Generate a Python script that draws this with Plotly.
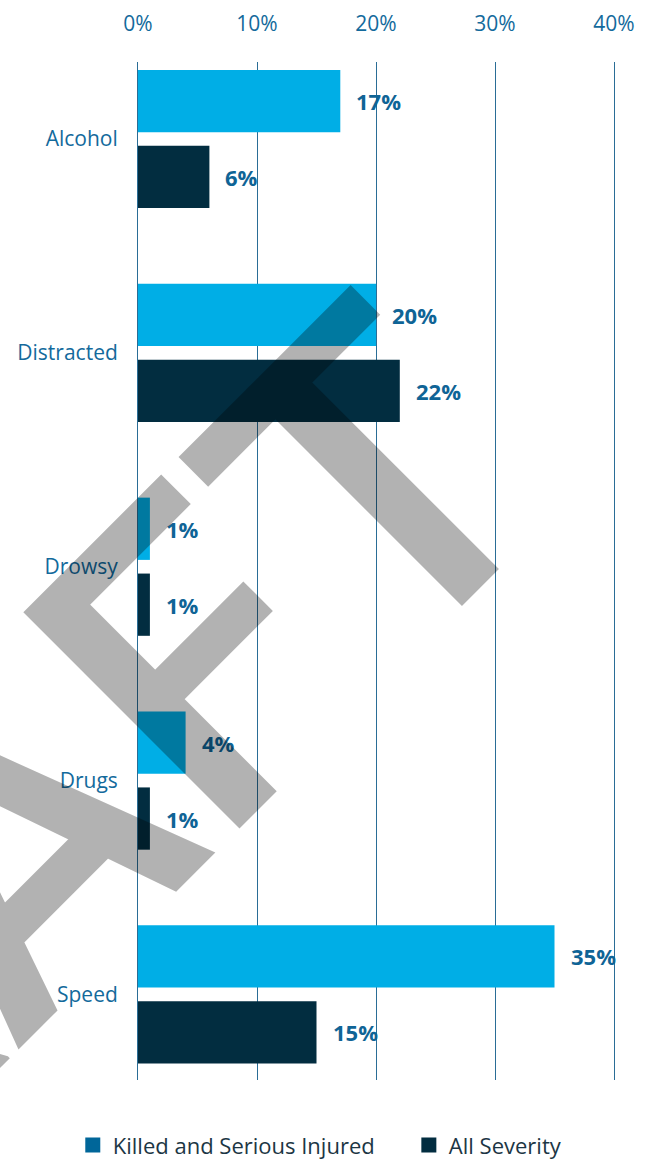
import plotly.graph_objects as go

# Contributing factors and share of crashes (%)
categories = ["Alcohol", "Distracted", "Drowsy", "Drugs", "Speed"]
killed_serious = [17, 20, 1, 4, 35]
all_severity = [6, 22, 1, 1, 15]
tick_values = [0, 10, 20, 30, 40]
tick_labels = ["0%", "10%", "20%", "30%", "40%"]

LIGHT = "#00aee6"
DARK = "#022d40"
LEGEND_BLUE = "#006699"
LABEL_BLUE = "#136a9c"
VALUE_BLUE = "#0f6496"
GRID = "#2a6d96"
LEGEND_TEXT = "#1c3644"
FONT = "Open Sans"
MARK_FONT = "Roboto"

fig = go.Figure()

fig.add_trace(go.Bar(
    y=categories, x=killed_serious, orientation="h",
    marker=dict(color=LIGHT, line=dict(width=0)),
    name="Killed and Serious Injured", showlegend=False,
    hoverinfo="skip",
))
fig.add_trace(go.Bar(
    y=categories, x=all_severity, orientation="h",
    marker=dict(color=DARK, line=dict(width=0)),
    name="All Severity", showlegend=False,
    hoverinfo="skip",
))

# legend entries (square swatches), one legend box each
fig.add_trace(go.Scatter(
    x=[None], y=[None], mode="markers", name="Killed and Serious Injured",
    marker=dict(symbol="square", size=15, color=LEGEND_BLUE),
    legend="legend",
))
fig.add_trace(go.Scatter(
    x=[None], y=[None], mode="markers", name="All Severity",
    marker=dict(symbol="square", size=15, color=DARK),
    legend="legend2",
))

annotations = []
# value labels next to each bar end
for cat, v in zip(categories, killed_serious):
    annotations.append(dict(
        x=v, y=cat, xref="x", yref="y", text=f"<b>{v}%</b>", showarrow=False,
        xanchor="left", yanchor="middle", xshift=14, yshift=38,
        font=dict(family=FONT, size=22, color=VALUE_BLUE),
    ))
for cat, v in zip(categories, all_severity):
    annotations.append(dict(
        x=v, y=cat, xref="x", yref="y", text=f"<b>{v}%</b>", showarrow=False,
        xanchor="left", yanchor="middle", xshift=14, yshift=-38,
        font=dict(family=FONT, size=22, color=VALUE_BLUE),
    ))

# DRAFT watermark
annotations.append(dict(
    x=-0.298, y=0.212, xref="paper", yref="paper", text="DRAFT",
    showarrow=False, textangle=-45, xanchor="center", yanchor="middle",
    font=dict(family=MARK_FONT, size=430, weight=500, color="rgba(0,0,0,0.3)"),
))

legend_common = dict(
    orientation="h", y=-0.064, xanchor="left", yanchor="middle",
    font=dict(family=FONT, size=22, color=LEGEND_TEXT),
    itemwidth=30, bgcolor="rgba(0,0,0,0)",
)

fig.update_layout(
    width=649, height=1161,
    margin=dict(l=138, r=35, t=62, b=81, autoexpand=False),
    paper_bgcolor="white", plot_bgcolor="white",
    barmode="group", bargap=0.29, bargroupgap=0.18,
    font=dict(family=FONT, size=20, color=LABEL_BLUE),
    xaxis=dict(
        side="top", range=[0, 40], tickvals=tick_values, ticktext=tick_labels,
        showgrid=True, gridcolor=GRID, gridwidth=1, zeroline=False,
        showline=False, ticks="", ticklabelstandoff=26,
        tickfont=dict(family=FONT, size=21, color=LABEL_BLUE),
        fixedrange=True,
    ),
    yaxis=dict(
        categoryorder="array", categoryarray=categories,
        range=[4.40, -0.36], showgrid=False, zeroline=False,
        showline=True, linecolor=GRID, linewidth=1, mirror=True,
        ticks="", ticklabelstandoff=15,
        tickfont=dict(family=FONT, size=21, color=LABEL_BLUE),
        fixedrange=True,
    ),
    showlegend=True,
    legend=dict(x=-0.137, **legend_common),
    legend2=dict(x=0.569, **legend_common),
    annotations=annotations,
)

fig.write_html("out.html")
